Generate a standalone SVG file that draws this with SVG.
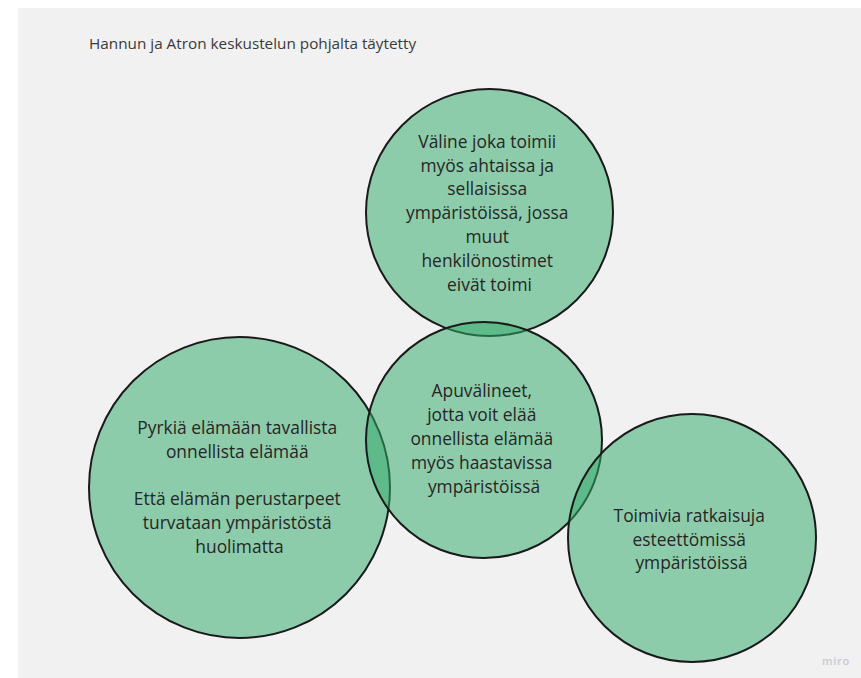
<svg xmlns="http://www.w3.org/2000/svg" width="861" height="678" viewBox="0 0 861 678">
<style>
.c{fill:#34ac6a;fill-opacity:0.525;stroke:#1a1a1a;stroke-width:2}
.t{font-family:"Open Sans","Noto Sans","DejaVu Sans",sans-serif;font-size:17.4px;fill:#262626;text-anchor:middle}
.title{font-family:"Open Sans","Noto Sans","DejaVu Sans",sans-serif;font-size:15.3px;fill:#3a3a3a}
.wm{font-family:"Open Sans","Noto Sans","DejaVu Sans",sans-serif;font-size:11px;font-weight:600;fill:#c9c9d1;letter-spacing:0.7px}
</style>
<rect x="0" y="0" width="861" height="678" fill="#ffffff"/>
<rect x="18" y="8" width="843" height="670" fill="#f1f1f1"/>
<text class="title" x="89" y="49">Hannun ja Atron keskustelun pohjalta täytetty</text>
<g id="connectors"/>
<g id="node-top">
<circle class="c" cx="489.5" cy="212.5" r="123.5"/>
<text class="t">
<tspan x="489.5" y="147.7">Väline joka toimii</tspan>
<tspan x="489.5" y="171.5">myös ahtaissa ja</tspan>
<tspan x="489.5" y="195.3">sellaisissa</tspan>
<tspan x="489.5" y="219.1">ympäristöissä, jossa</tspan>
<tspan x="489.5" y="242.9">muut</tspan>
<tspan x="489.5" y="266.7">henkilönostimet</tspan>
<tspan x="489.5" y="290.5">eivät toimi</tspan>
</text>
</g>
<g id="node-left">
<circle class="c" cx="239.5" cy="487.5" r="150.5"/>
<text class="t">
<tspan x="239.5" y="434">Pyrkiä elämään tavallista</tspan>
<tspan x="239.5" y="457.8">onnellista elämää</tspan>
<tspan x="239.5" y="505.4">Että elämän perustarpeet</tspan>
<tspan x="239.5" y="529.2">turvataan ympäristöstä</tspan>
<tspan x="239.5" y="553">huolimatta</tspan>
</text>
</g>
<g id="node-center">
<circle class="c" cx="484" cy="440" r="118"/>
<text class="t">
<tspan x="484" y="397.3">Apuvälineet,</tspan>
<tspan x="484" y="421.1">jotta voit elää</tspan>
<tspan x="484" y="444.9">onnellista elämää</tspan>
<tspan x="484" y="468.7">myös haastavissa</tspan>
<tspan x="484" y="492.5">ympäristöissä</tspan>
</text>
</g>
<g id="node-right">
<circle class="c" cx="692" cy="538" r="124"/>
<text class="t">
<tspan x="691.5" y="521.7">Toimivia ratkaisuja</tspan>
<tspan x="691.5" y="545.5">esteettömissä</tspan>
<tspan x="691.5" y="569.3">ympäristöissä</tspan>
</text>
</g>
<text class="wm" x="822" y="665">miro</text>
</svg>
